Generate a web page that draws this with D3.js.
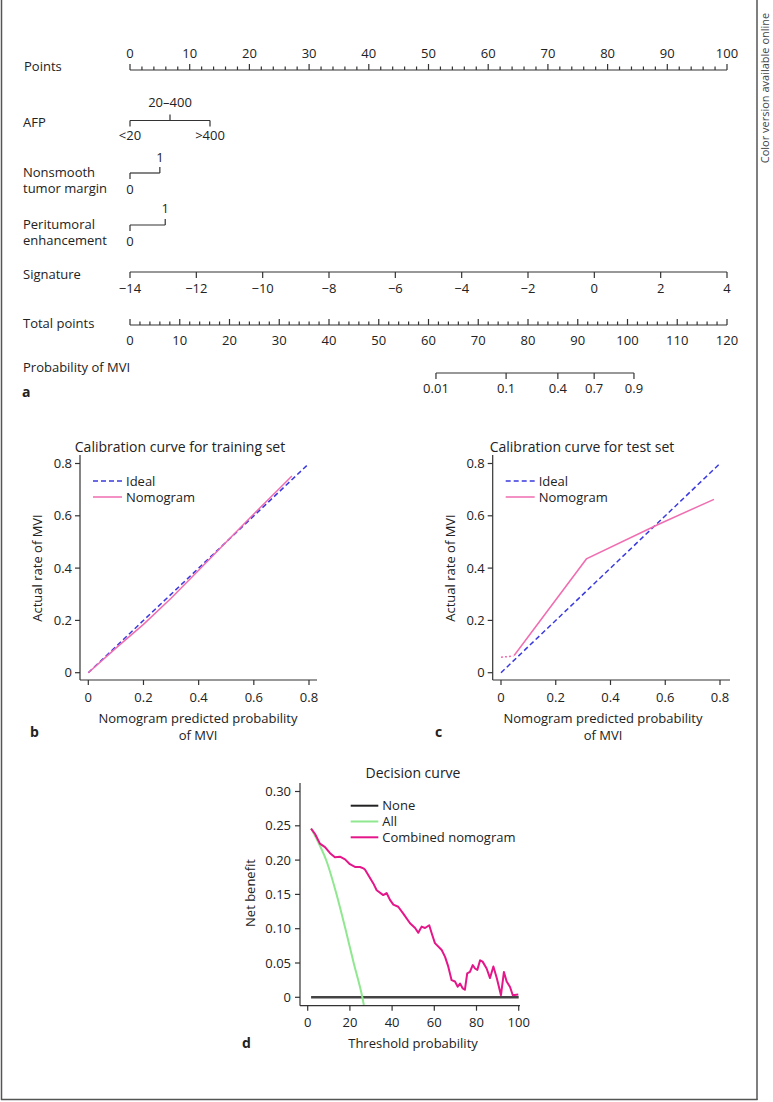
<!DOCTYPE html>
<html><head><meta charset="utf-8">
<script src="https://cdn.jsdelivr.net/npm/d3@7"></script>
<style>
body{margin:0;background:#fff;}
svg{display:block;font-family:"Open Sans",sans-serif;}
</style></head>
<body><svg id="c" width="773" height="1102"></svg>
<script>
// ---------- DATA ----------
const pointsDomain = [0, 100];
const afpLevels = ["<20", "20–400", ">400"];
const afpPoints = [0, 6.7, 13.4];
const marginLevels = ["0", "1"];
const marginPoints = [0, 5.0];
const periLevels = ["0", "1"];
const periPoints = [0, 5.9];
const signatureDomain = [-14, 4];
const totalDomain = [0, 120];
const probTicks = [0.01, 0.1, 0.4, 0.7, 0.9];
const probTotalPoints = [61.5, 75.6, 86.0, 93.3, 101.3];

const calTicks = [0, 0.2, 0.4, 0.6, 0.8];
const idealX = [0, 0.8];
const idealY = [0, 0.8];
const trainPredX = [0, 0.1, 0.2, 0.3, 0.4, 0.5, 0.6, 0.7, 0.738];
const trainActY = [0, 0.094, 0.185, 0.285, 0.392, 0.5, 0.607, 0.712, 0.752];
const testDotX = [0, 0.045];
const testDotY = [0.059, 0.064];
const testPredX = [0.048, 0.312, 0.57, 0.778];
const testActY = [0.066, 0.435, 0.565, 0.663];

const dcaXTicks = [0, 20, 40, 60, 80, 100];
const dcaYTicks = [0, 0.05, 0.10, 0.15, 0.20, 0.25, 0.30];
const noneX = [1.6, 100];
const noneY = [0, 0];
const allX = [1.6, 5, 9, 13.5, 17.7, 21.8, 25.9, 26.6];
const allY = [0.246, 0.226, 0.198, 0.152, 0.102, 0.050, 0, -0.011];
const nomoX = [1.6, 3.5, 5.8, 8.2, 10.6, 12.9, 15.3, 17.7, 20.0, 22.4, 24.8, 26.4, 27.2, 31.1, 32.7, 35.8, 37.4, 39.0, 40.6, 42.9, 45.3, 48.5, 50.9, 52.4, 54.0, 55.6, 57.6, 58.8, 60.3, 63.5, 65.1, 66.6, 68.2, 69.8, 71.1, 72.2, 73.5, 74.5, 75.6, 76.9, 78.2, 79.3, 80.4, 81.7, 82.9, 84.8, 86.4, 88.0, 89.6, 91.6, 93.0, 94.3, 95.9, 97.2, 99.8];
const nomoY = [0.246, 0.238, 0.224, 0.219, 0.210, 0.204, 0.205, 0.201, 0.194, 0.190, 0.190, 0.188, 0.186, 0.166, 0.156, 0.149, 0.152, 0.142, 0.135, 0.132, 0.122, 0.108, 0.101, 0.094, 0.103, 0.101, 0.105, 0.093, 0.079, 0.069, 0.059, 0.045, 0.025, 0.023, 0.0155, 0.020, 0.013, 0.011, 0.035, 0.037, 0.047, 0.042, 0.040, 0.054, 0.052, 0.042, 0.028, 0.045, 0.028, 0.003, 0.037, 0.023, 0.015, 0.003, 0.004];

// ---------- SETUP ----------
const svg = d3.select("#c");
const ink = "#333";
const txt = "#222";
const FS = 13;

// frame
svg.append("line").attr("x1",1.5).attr("x2",1.5).attr("y1",0).attr("y2",1100).attr("stroke","#555").attr("stroke-width",1.5);
svg.append("line").attr("x1",757).attr("x2",757).attr("y1",0).attr("y2",1100).attr("stroke","#555").attr("stroke-width",1.5);
svg.append("line").attr("x1",1).attr("x2",757.5).attr("y1",1099.5).attr("y2",1099.5).attr("stroke","#555").attr("stroke-width",1.5);
svg.append("text").attr("transform","translate(769,88) rotate(-90)").attr("text-anchor","middle")
  .attr("font-size",11).attr("fill","#444").text("Color version available online");

function label(x,y,t,opts={}){
  const e = svg.append("text").attr("x",x).attr("y",y).attr("font-size",opts.size||FS).attr("fill",txt)
    .attr("text-anchor",opts.anchor||"start").text(t);
  if(opts.bold) e.attr("font-weight","bold");
  return e;
}

// ---------- NOMOGRAM ----------
const xPts = d3.scaleLinear().domain(pointsDomain).range([130, 727]);
const xSig = d3.scaleLinear().domain(signatureDomain).range([130, 727]);
const xTot = d3.scaleLinear().domain(totalDomain).range([130, 727]);

function hline(x1,x2,y){ svg.append("line").attr("x1",x1).attr("x2",x2).attr("y1",y).attr("y2",y).attr("stroke",ink).attr("stroke-width",1.2); }
function vtick(x,y,len){ svg.append("line").attr("x1",x).attr("x2",x).attr("y1",y).attr("y2",y+len).attr("stroke",ink).attr("stroke-width",1.2); }

// Points
label(24,71,"Points");
hline(xPts(0),xPts(100),70);
d3.range(0,101,2).forEach(v=>vtick(xPts(v),70, v%10===0? -6 : -3.5));
xPts.ticks(10).forEach(v=>label(xPts(v),58,v,{anchor:"middle"}));

// AFP
label(23,127,"AFP");
const afpY = 120.5;
hline(xPts(afpPoints[0]), xPts(afpPoints[2]), afpY);
afpLevels.forEach((l,i)=>{
  const up = i===1;
  vtick(xPts(afpPoints[i]), afpY, up? -6 : 6);
  label(xPts(afpPoints[i]), up? 107 : 140, l, {anchor:"middle"});
});

// Nonsmooth tumor margin
label(23,177,"Nonsmooth");
label(23,193,"tumor margin");
const mY = 173;
hline(xPts(marginPoints[0]), xPts(marginPoints[1]), mY);
marginLevels.forEach((l,i)=>{
  vtick(xPts(marginPoints[i]), mY, i? -6 : 6);
  label(xPts(marginPoints[i]), i? 162 : 194, l, {anchor:"middle"});
});

// Peritumoral enhancement
label(23,229,"Peritumoral");
label(23,245,"enhancement");
const pY = 225;
hline(xPts(periPoints[0]), xPts(periPoints[1]), pY);
periLevels.forEach((l,i)=>{
  vtick(xPts(periPoints[i]), pY, i? -6 : 6);
  label(xPts(periPoints[i]), i? 213 : 246, l, {anchor:"middle"});
});

// Signature
label(23,279,"Signature");
hline(xSig(-14), xSig(4), 272);
d3.range(-14,5,2).forEach(v=>{
  vtick(xSig(v),272,6);
  label(xSig(v),293, v<0? "\u2212"+Math.abs(v) : v, {anchor:"middle"});
});

// Total points
label(23,328,"Total points");
hline(xTot(0), xTot(120), 325);
d3.range(0,121,2).forEach(v=>vtick(xTot(v),325, v%10===0? -6 : -3.5));
xTot.ticks(12).forEach(v=>label(xTot(v),345,v,{anchor:"middle"}));

// Probability of MVI
label(23,372,"Probability of MVI");
hline(xTot(probTotalPoints[0]), xTot(probTotalPoints[probTotalPoints.length-1]), 373);
probTicks.forEach((p,i)=>{
  vtick(xTot(probTotalPoints[i]),373,6);
  label(xTot(probTotalPoints[i]),393,p,{anchor:"middle"});
});
label(22,397,"a",{bold:true,size:14});

// ---------- CALIBRATION PLOTS ----------
const calFmt = d => d===0 ? "0" : d3.format(".1f")(d);
function calPlot(o){
  const x = d3.scaleLinear().domain([0,0.8]).range([o.x0, o.x8]);
  const y = d3.scaleLinear().domain([0,0.8]).range([672.7, 463.5]);
  const g = svg.append("g");
  // axes
  g.append("line").attr("x1",o.ax).attr("x2",o.ax).attr("y1",455).attr("y2",680).attr("stroke",ink).attr("stroke-width",1.2);
  g.append("line").attr("x1",o.ax).attr("x2",o.xEnd).attr("y1",680).attr("y2",680).attr("stroke",ink).attr("stroke-width",1.2);
  calTicks.forEach(t=>{
    g.append("line").attr("x1",o.ax).attr("x2",o.ax-5).attr("y1",y(t)).attr("y2",y(t)).attr("stroke",ink).attr("stroke-width",1.2);
    g.append("text").attr("x",o.ax-8).attr("y",y(t)+4.5).attr("text-anchor","end").attr("font-size",FS).attr("fill",txt).text(calFmt(t));
    g.append("line").attr("x1",x(t)).attr("x2",x(t)).attr("y1",680).attr("y2",685).attr("stroke",ink).attr("stroke-width",1.2);
    g.append("text").attr("x",x(t)).attr("y",702).attr("text-anchor","middle").attr("font-size",FS).attr("fill",txt).text(calFmt(t));
  });
  // title & labels
  g.append("text").attr("x",o.titleX).attr("y",452).attr("text-anchor","middle").attr("font-size",14).attr("fill",txt).text(o.title);
  g.append("text").attr("x",o.xlabX).attr("y",723).attr("text-anchor","middle").attr("font-size",FS).attr("fill",txt).text("Nomogram predicted probability");
  g.append("text").attr("x",o.xlabX).attr("y",740).attr("text-anchor","middle").attr("font-size",FS).attr("fill",txt).text("of MVI");
  g.append("text").attr("transform",`translate(${o.ylabX},568) rotate(-90)`).attr("text-anchor","middle").attr("font-size",FS).attr("fill",txt).text("Actual rate of MVI");
  g.append("text").attr("x",o.panelX).attr("y",737).attr("font-size",14).attr("font-weight","bold").attr("fill",txt).text(o.panel);
  // ideal
  const line = d3.line().x(d=>x(d[0])).y(d=>y(d[1]));
  g.append("path").attr("d",line(d3.zip(idealX,idealY))).attr("fill","none").attr("stroke","#3a3ae0").attr("stroke-width",1.5).attr("stroke-dasharray","5,3");
  // legend
  const lx = o.ax + 13;
  g.append("line").attr("x1",lx).attr("x2",lx+29).attr("y1",481).attr("y2",481).attr("stroke","#3a3ae0").attr("stroke-width",1.5).attr("stroke-dasharray","5,3");
  g.append("text").attr("x",lx+33).attr("y",486).attr("font-size",FS).attr("fill",txt).text("Ideal");
  g.append("line").attr("x1",lx).attr("x2",lx+29).attr("y1",497).attr("y2",497).attr("stroke","#f06db0").attr("stroke-width",1.5);
  g.append("text").attr("x",lx+33).attr("y",502).attr("font-size",FS).attr("fill",txt).text("Nomogram");
  return {g,x,y,line};
}

const pb = calPlot({x0:88.3, x8:309, ax:80, xEnd:317, title:"Calibration curve for training set", titleX:180, xlabX:198, ylabX:42, panel:"b", panelX:30});
pb.g.append("path").attr("d",pb.line(d3.zip(trainPredX,trainActY))).attr("fill","none").attr("stroke","#f06db0").attr("stroke-width",1.5);

const pc = calPlot({x0:501, x8:720, ax:492.7, xEnd:730, title:"Calibration curve for test set", titleX:582, xlabX:603, ylabX:455, panel:"c", panelX:435});
pc.g.append("path").attr("d",pc.line(d3.zip(testDotX,testDotY))).attr("fill","none").attr("stroke","#f06db0").attr("stroke-width",1.5).attr("stroke-dasharray","2,2");
pc.g.append("path").attr("d",pc.line(d3.zip(testPredX,testActY))).attr("fill","none").attr("stroke","#f06db0").attr("stroke-width",1.5);

// ---------- DECISION CURVE ----------
const dx = d3.scaleLinear().domain([0,100]).range([307.7, 518.7]);
const dy = d3.scaleLinear().domain([0,0.30]).range([997.3, 791.5]);
const dg = svg.append("g");
dg.append("line").attr("x1",300).attr("x2",300).attr("y1",783).attr("y2",1005.7).attr("stroke",ink).attr("stroke-width",1.2);
dg.append("line").attr("x1",300).attr("x2",520).attr("y1",1005.7).attr("y2",1005.7).attr("stroke",ink).attr("stroke-width",1.2);
dcaYTicks.forEach(t=>{
  dg.append("line").attr("x1",300).attr("x2",295).attr("y1",dy(t)).attr("y2",dy(t)).attr("stroke",ink).attr("stroke-width",1.2);
  dg.append("text").attr("x",291).attr("y",dy(t)+4.5).attr("text-anchor","end").attr("font-size",FS).attr("fill",txt).text(t===0?"0":d3.format(".2f")(t));
});
dcaXTicks.forEach(t=>{
  dg.append("line").attr("x1",dx(t)).attr("x2",dx(t)).attr("y1",1005.7).attr("y2",1010.7).attr("stroke",ink).attr("stroke-width",1.2);
  dg.append("text").attr("x",dx(t)).attr("y",1027).attr("text-anchor","middle").attr("font-size",FS).attr("fill",txt).text(t);
});
dg.append("text").attr("x",413).attr("y",778).attr("text-anchor","middle").attr("font-size",14).attr("fill",txt).text("Decision curve");
dg.append("text").attr("x",413).attr("y",1048).attr("text-anchor","middle").attr("font-size",FS).attr("fill",txt).text("Threshold probability");
dg.append("text").attr("transform","translate(255,893) rotate(-90)").attr("text-anchor","middle").attr("font-size",FS).attr("fill",txt).text("Net benefit");
dg.append("text").attr("x",242).attr("y",1048).attr("font-size",14).attr("font-weight","bold").attr("fill",txt).text("d");

const dline = d3.line().x(d=>dx(d[0])).y(d=>dy(d[1]));
dg.append("path").attr("d",dline(d3.zip(noneX,noneY))).attr("fill","none").attr("stroke","#444").attr("stroke-width",2.5);
dg.append("path").attr("d",dline.curve(d3.curveMonotoneX)(d3.zip(allX,allY))).attr("fill","none").attr("stroke","#8fe88f").attr("stroke-width",2);
dg.append("path").attr("d",d3.line().x(d=>dx(d[0])).y(d=>dy(d[1]))(d3.zip(nomoX,nomoY))).attr("fill","none").attr("stroke","#e4168a").attr("stroke-width",2).attr("stroke-linejoin","round");

const legend = [["None","#222"],["All","#8fe88f"],["Combined nomogram","#e4168a"]];
legend.forEach((l,i)=>{
  const yy = 805.7 + i*15.8;
  dg.append("line").attr("x1",350.7).attr("x2",378.3).attr("y1",yy).attr("y2",yy).attr("stroke",l[1]).attr("stroke-width",2);
  dg.append("text").attr("x",382.3).attr("y",yy+4.5).attr("font-size",FS).attr("fill",txt).text(l[0]);
});
</script></body></html>
